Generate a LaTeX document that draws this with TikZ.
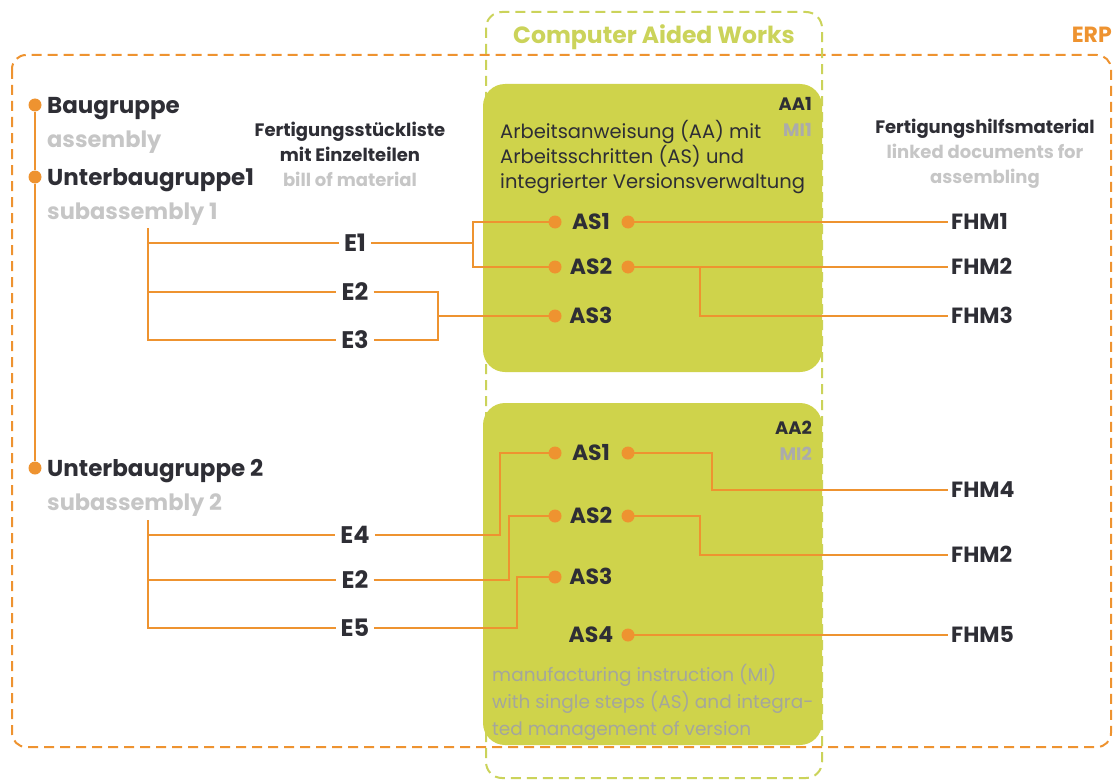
\documentclass[tikz,border=0pt]{standalone}
\usepackage{fontspec}
\setmainfont{Poppins}
\definecolor{ora}{HTML}{EE9330}
\definecolor{gfill}{HTML}{CFD34B}
\definecolor{gdash}{HTML}{CBD35A}
\definecolor{dk}{HTML}{2E2E35}
\definecolor{lg}{HTML}{C6C6C6}
\definecolor{mg}{HTML}{A4A69C}
\definecolor{mig}{HTML}{ABABAB}
\begin{document}
\begin{tikzpicture}[x=1pt,y=-1pt,
  conn/.style={draw=ora, line width=2pt},
  dot/.style={circle, fill=ora, inner sep=0pt, minimum size=13pt},
  capt/.style={text height=#1, text depth=0pt},
  lbl/.style={font=\bfseries\fontsize{23}{23}\selectfont, text=dk, inner xsep=2pt, inner ysep=0pt, anchor=west, capt=16.1pt},
  sublbl/.style={font=\bfseries\fontsize{22.5}{22.5}\selectfont, text=lg, inner xsep=2pt, inner ysep=0pt, anchor=west, capt=15.75pt},
  enode/.style={font=\bfseries\fontsize{24}{24}\selectfont, text=dk, inner xsep=5pt, inner ysep=0pt, capt=16.8pt},
  asnode/.style={font=\bfseries\fontsize{22}{22}\selectfont, text=dk, inner sep=0pt, capt=15.4pt},
  fhm/.style={font=\bfseries\fontsize{22}{22}\selectfont, text=dk, inner xsep=3pt, inner ysep=0pt, anchor=west, capt=15.4pt},
  head/.style={font=\bfseries\fontsize{18}{25}\selectfont, align=center, inner sep=0pt},
  boxtext/.style={font=\fontsize{19.5}{25}\selectfont, text=dk, align=left, inner sep=0pt, anchor=north west},
  aa/.style={font=\bfseries\fontsize{18}{26}\selectfont, align=right, inner sep=0pt, anchor=north east},
  greenbox/.style={fill=gfill, rounded corners=22pt},
  erpframe/.style={draw=ora, line width=2pt, dash pattern=on 10pt off 6pt, rounded corners=14pt},
  cawframe/.style={draw=gdash, line width=2pt, dash pattern=on 10pt off 6pt, rounded corners=16pt}
]
\useasboundingbox (0,0) rectangle (1115,781);

% frames
\draw[erpframe] (12,55) rectangle (1111,747);
\draw[cawframe] (486,12) rectangle (822,778);
\node[font=\bfseries\fontsize{23.5}{23.5}\selectfont, text=gdash, inner sep=0pt, capt=16.45pt] (caw) at (654,35) {Computer Aided Works};
\node[font=\bfseries\fontsize{22}{22}\selectfont, text=ora, inner sep=0pt, anchor=east, capt=15.4pt] (erp) at (1112,35) {ERP};

% green boxes
\fill[greenbox] (483,84) rectangle (822,372);
\fill[greenbox] (483,403) rectangle (822,745);

% assembly tree
\node[dot] (bgdot) at (35,105) {};
\node[dot] (ub1dot) at (35,177) {};
\node[dot] (ub2dot) at (35,468) {};
\draw[conn] (bgdot) -- (ub1dot) -- (ub2dot);
\node[lbl] (bg) at (45,105) {Baugruppe};
\node[sublbl] (bgs) at (45,140) {assembly};
\node[lbl] (ub1) at (45,177) {Unterbaugruppe1};
\node[sublbl] (ub1s) at (45,212) {subassembly 1};
\node[lbl] (ub2) at (45,468) {Unterbaugruppe 2};
\node[sublbl] (ub2s) at (45,503) {subassembly 2};

% column headings
\node[head] (bom) at (350,154) {\textcolor{dk}{Fertigungsstückliste}\\\textcolor{dk}{mit Einzelteilen}\\\textcolor{lg}{bill of material}};
\node[head] (fhmh) at (985,154) {\textcolor{dk}{Fertigungshilfsmaterial}\\\textcolor{lg}{linked documents for}\\\textcolor{lg}{assembling}};

% box 1 texts
\node[boxtext] (aatext) at (500,120) {Arbeitsanweisung (AA) mit\\Arbeitsschritten (AS) und\\integrierter Versionsverwaltung};
\node[aa] (aa1) at (812,97) {\textcolor{dk}{AA1}\\\textcolor{mig}{MI1}};

% box 2 texts
\node[aa] (aa2) at (812,421) {\textcolor{dk}{AA2}\\\textcolor{mig}{MI2}};
\node[font=\fontsize{18.5}{27}\selectfont, text=mg, align=left, inner sep=0pt, anchor=north west] (mitext) at (492,664) {manufacturing instruction (MI)\\with single steps (AS) and integra-\\ted management of version};

% ---------- box 1 ----------
\node[enode] (e1) at (355,243) {E1};
\node[enode] (e2) at (355,292) {E2};
\node[enode] (e3) at (355,340) {E3};
\coordinate (t1) at (148,228);
\draw[conn] (t1) |- (e3.west);
\draw[conn] (t1 |- e1.west) -- (e1.west);
\draw[conn] (t1 |- e2.west) -- (e2.west);

\node[asnode] (as11) at (591,222) {AS1};
\node[asnode] (as12) at (591,267) {AS2};
\node[asnode] (as13) at (591,316) {AS3};
\node[dot] (as11l) at (555,222) {};
\node[dot] (as12l) at (555,267) {};
\node[dot] (as13l) at (555,316) {};
\node[dot] (as11r) at (628,222) {};
\node[dot] (as12r) at (628,267) {};

\coordinate (j1) at (473,243);
\draw[conn] (e1.east) -- (j1);
\draw[conn] (as11l.center) -| (j1) |- (as12l.center);
\coordinate (j2) at (438,316);
\draw[conn] (e2.east) -| (j2) |- (e3.east);
\draw[conn] (j2) -- (as13l.center);

\node[fhm] (f1) at (948,222) {FHM1};
\node[fhm] (f2) at (948,267) {FHM2};
\node[fhm] (f3) at (948,316) {FHM3};
\draw[conn] (as11r.center) -- (f1.west);
\draw[conn] (as12r.center) -- (f2.west);
\coordinate (j3) at (700,267);
\draw[conn] (j3) |- (f3.west);

% ---------- box 2 ----------
\node[enode] (e4) at (355,535) {E4};
\node[enode] (e22) at (355,580) {E2};
\node[enode] (e5) at (355,628) {E5};
\coordinate (t2) at (148,520);
\draw[conn] (t2) |- (e5.west);
\draw[conn] (t2 |- e4.west) -- (e4.west);
\draw[conn] (t2 |- e22.west) -- (e22.west);

\node[asnode] (as21) at (591,453) {AS1};
\node[asnode] (as22) at (591,516) {AS2};
\node[asnode] (as23) at (591,577) {AS3};
\node[asnode] (as24) at (591,635) {AS4};
\node[dot] (as21l) at (555,453) {};
\node[dot] (as22l) at (555,516) {};
\node[dot] (as23l) at (555,577) {};
\node[dot] (as21r) at (628,453) {};
\node[dot] (as22r) at (628,516) {};
\node[dot] (as24r) at (628,635) {};

\coordinate (k1) at (500,535);
\coordinate (k2) at (509,580);
\coordinate (k3) at (517,628);
\draw[conn] (e4.east) -- (k1) |- (as21l.center);
\draw[conn] (e22.east) -- (k2) |- (as22l.center);
\draw[conn] (e5.east) -- (k3) |- (as23l.center);

\node[fhm] (f4) at (948,490) {FHM4};
\node[fhm] (f22) at (948,555) {FHM2};
\node[fhm] (f5) at (948,635) {FHM5};
\coordinate (m1) at (712,453);
\coordinate (m2) at (700,516);
\draw[conn] (as21r.center) -- (m1) |- (f4.west);
\draw[conn] (as22r.center) -- (m2) |- (f22.west);
\draw[conn] (as24r.center) -- (f5.west);
\end{tikzpicture}
\end{document}
